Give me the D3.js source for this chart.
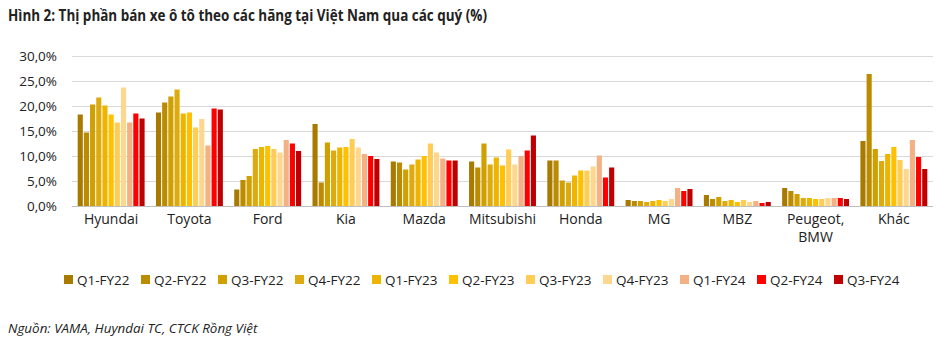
<!DOCTYPE html>
<html><head><meta charset="utf-8">
<script src="https://cdn.jsdelivr.net/npm/d3@7"></script>
<style>body{margin:0;background:#fff;}svg{display:block;}</style>
</head><body>
<script>
const categories = ["Hyundai","Toyota","Ford","Kia","Mazda","Mitsubishi","Honda","MG","MBZ","Peugeot, BMW","Khác"];
const seriesNames = ["Q1-FY22","Q2-FY22","Q3-FY22","Q4-FY22","Q1-FY23","Q2-FY23","Q3-FY23","Q4-FY23","Q1-FY24","Q2-FY24","Q3-FY24"];
const hyundai    = [18.3,14.7,20.3,21.7,20.1,18.3,16.7,23.7,16.7,18.5,17.5];
const toyota     = [18.7,20.7,21.9,23.3,18.5,18.7,15.7,17.4,12.1,19.5,19.3];
const ford       = [3.3,5.2,6.0,11.4,11.8,12.0,11.4,10.7,13.2,12.5,11.0];
const kia        = [16.4,4.7,12.7,11.1,11.7,11.8,13.4,11.7,10.4,10.0,9.4];
const mazda      = [8.9,8.7,7.3,8.3,9.3,10.0,12.5,10.7,9.5,9.1,9.1];
const mitsubishi = [8.9,7.7,12.5,8.3,9.7,8.1,11.3,8.3,10.0,11.1,14.1];
const honda      = [9.1,9.1,5.1,4.7,6.1,7.1,7.1,7.9,10.1,5.7,7.7];
const mg         = [1.2,1.0,1.0,0.8,1.0,1.2,1.0,1.4,3.6,3.0,3.4];
const mbz        = [2.2,1.4,1.8,1.0,1.2,0.8,1.2,0.8,1.0,0.6,0.8];
const peugeotBmw = [3.6,3.0,2.4,1.6,1.6,1.4,1.4,1.6,1.6,1.6,1.4];
const khac       = [13.0,26.4,11.4,9.0,10.4,11.8,9.2,7.4,13.2,9.8,7.4];
const values = [hyundai,toyota,ford,kia,mazda,mitsubishi,honda,mg,mbz,peugeotBmw,khac];
const colors = ["#A87B00","#BC8C00","#CFA000","#DDAB10","#EEB500","#FFC000","#FFCC55","#FDD78E","#F4B183","#FF0000","#C00000"];
const yTicks = [0,5,10,15,20,25,30];

const W = 950, H = 351;
const svg = d3.select("body").append("svg").attr("width",W).attr("height",H);
const x0 = d3.scaleBand().domain(categories).range([72,933]).paddingInner(0.145).paddingOuter(0.0725);
const x1 = d3.scaleBand().domain(seriesNames).range([0,x0.bandwidth()]).paddingInner(0.17);
const y = d3.scaleLinear().domain([0,30]).range([206,56]);
const font = "'Open Sans', sans-serif";

// title
svg.append("text").attr("x",8).attr("y",21)
  .attr("font-family",font).attr("font-weight","bold").attr("font-size",15.5).attr("fill","#222")
  .attr("textLength",479).attr("lengthAdjust","spacingAndGlyphs")
  .text("Hình 2: Thị phần bán xe ô tô theo các hãng tại Việt Nam qua các quý (%)");

// gridlines
svg.append("g").selectAll("line").data(yTicks).join("line")
  .attr("x1",72).attr("x2",933).attr("y1",d=>y(d)+0.5).attr("y2",d=>y(d)+0.5)
  .attr("stroke",d=>d===0?"#bfbfbf":"#d9d9d9").attr("stroke-width",1);

// y axis labels
const fmt = d => d.toFixed(1).replace(".",",")+"%";
const yAxis = d3.axisLeft(y).tickValues(yTicks).tickFormat(fmt).tickSize(0).tickPadding(0);
const gy = svg.append("g").attr("transform","translate(57,0)").call(yAxis);
gy.select(".domain").remove();
gy.selectAll("text").attr("font-family",font).attr("font-size",13.5).attr("fill","#222");

// bars
const groups = svg.append("g").selectAll("g").data(categories).join("g")
  .attr("transform",c=>`translate(${x0(c)},0)`);
groups.selectAll("rect").data((c,i)=>values[i].map((v,j)=>({s:seriesNames[j],v,j}))).join("rect")
  .attr("x",d=>x1(d.s)).attr("width",x1.bandwidth())
  .attr("y",d=>y(d.v)).attr("height",d=>y(0)-y(d.v))
  .attr("fill",d=>colors[d.j]);

// x labels
const xAxis = d3.axisBottom(x0).tickSize(0).tickPadding(0);
const gx = svg.append("g").attr("transform","translate(0,212)").call(xAxis);
gx.select(".domain").remove();
gx.selectAll("text").attr("font-family",font).attr("font-size",14).attr("fill","#222")
  .attr("dy","0.85em")
  .each(function(d){
    const t = d3.select(this);
    const parts = d.split(", ");
    if(parts.length>1){
      t.text(null);
      t.append("tspan").attr("x",0).text(parts[0]+",");
      t.append("tspan").attr("x",0).attr("dy","1.3em").text(parts[1]);
    }
  });

// legend
const leg = svg.append("g").selectAll("g").data(seriesNames).join("g")
  .attr("transform",(d,i)=>`translate(${64+i*77},275)`);
leg.append("rect").attr("width",9).attr("height",9).attr("fill",(d,i)=>colors[i]);
leg.append("text").attr("x",13).attr("y",9.5).attr("font-family",font).attr("font-size",13.5).attr("fill","#222").text(d=>d);

// source
svg.append("text").attr("x",8).attr("y",333).attr("font-family",font).attr("font-style","italic")
  .attr("font-size",13.4).attr("fill","#222").text("Nguồn: VAMA, Huyndai TC, CTCK Rồng Việt");
</script>
</body></html>
